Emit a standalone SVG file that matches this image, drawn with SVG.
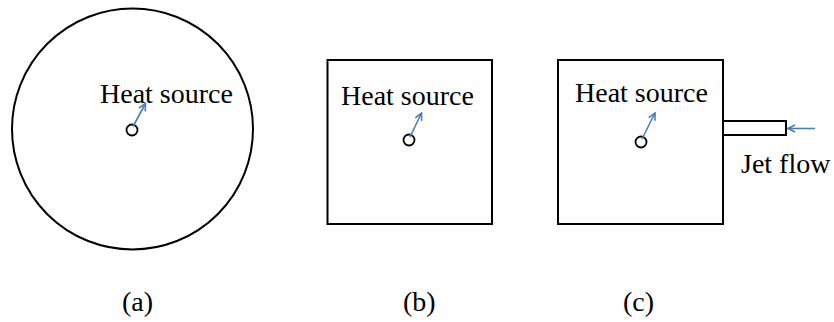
<svg xmlns="http://www.w3.org/2000/svg" width="834" height="322" viewBox="0 0 834 322">
  <style>
    .outline { fill: none; stroke: #000; stroke-width: 2; }
    .src { fill: #fff; stroke: #000; stroke-width: 1.8; }
    .lbl { font-family: "Liberation Serif", "Times New Roman", serif; font-size: 28px; fill: #000; }
    .ptr { stroke: #4a7ebb; stroke-width: 1.6; fill: none; marker-end: url(#vhead); }
  </style>
  <defs>
    <marker id="vhead" viewBox="0 0 10 10" refX="9" refY="5" markerWidth="5.5" markerHeight="5.5" orient="auto" markerUnits="strokeWidth">
      <path d="M1,1 L9,5 L1,9" fill="none" stroke="#4a7ebb" stroke-width="1.8"/>
    </marker>
  </defs>

  <rect width="834" height="322" fill="#fff"/>

  <!-- (a) circular domain -->
  <g id="domain-a">
    <circle class="outline" cx="132.5" cy="129" r="120.5"/>
    <circle class="src" cx="132" cy="130" r="5.5"/>
    <text class="lbl" x="100" y="103">Heat source</text>
    <text class="lbl" x="122" y="311">(a)</text>
  </g>

  <!-- (b) square domain -->
  <g id="domain-b">
    <rect class="outline" x="327.5" y="60" width="164.5" height="164"/>
    <circle class="src" cx="409" cy="140" r="5.5"/>
    <text class="lbl" x="341" y="105">Heat source</text>
    <text class="lbl" x="403" y="311">(b)</text>
  </g>

  <!-- (c) square domain with jet inlet -->
  <g id="domain-c">
    <rect class="outline" x="558" y="60" width="165" height="164"/>
    <circle class="src" cx="641" cy="142" r="5.5"/>
    <text class="lbl" x="575" y="102">Heat source</text>
    <text class="lbl" x="623" y="311">(c)</text>
  </g>

  <g id="jet-nozzle">
    <rect class="outline" x="723" y="121" width="63" height="14"/>
    <text class="lbl" x="741" y="173">Jet flow</text>
  </g>

  <!-- pointer arrows -->
  <g id="connectors">
    <line class="ptr" x1="133" y1="126.5" x2="145.5" y2="103.5"/>
    <line class="ptr" x1="410" y1="137" x2="421.5" y2="113"/>
    <line class="ptr" x1="642" y1="139" x2="655" y2="113"/>
    <line class="ptr" x1="815" y1="128.5" x2="788" y2="128.5"/>
  </g>
</svg>
